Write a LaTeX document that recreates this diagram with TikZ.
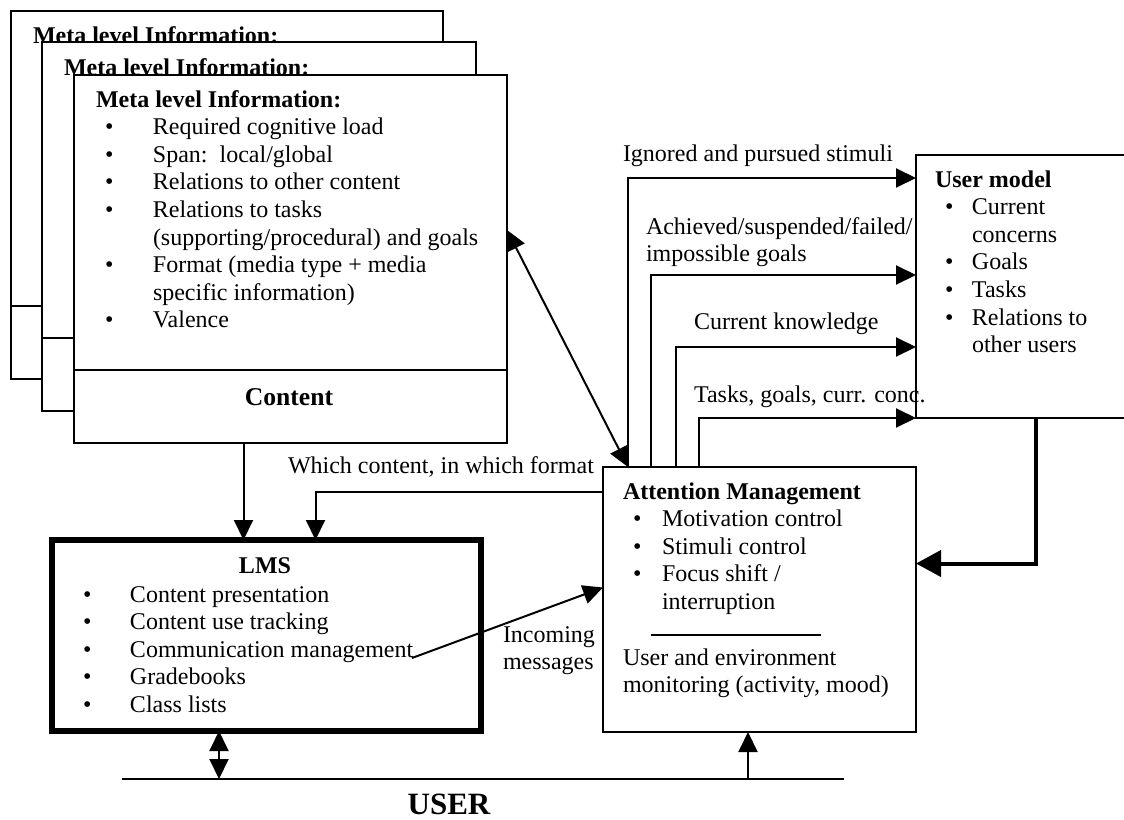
\documentclass[tikz,border=0pt]{standalone}
\usepackage{fontspec}
\setmainfont{Liberation Serif}
\usetikzlibrary{arrows.meta,calc}

\tikzset{
  box/.style={draw, fill=white, inner sep=0pt, outer sep=0pt, anchor=north west},
  txt/.style={inner sep=0pt, anchor=base west},
  arr/.style={-{Triangle[length=20pt,width=19pt]}},
  darr/.style={{Triangle[length=20pt,width=19pt]}-{Triangle[length=20pt,width=19pt]}},
  bigarr/.style={line width=4pt, -{Triangle[length=25pt,width=26pt]}},
}
\newcommand{\bl}[2]{\hspace*{#1}\makebox[#2][l]{\textbullet}}
\newcommand{\rows}[1]{\begin{tabular}[t]{@{}l@{}}#1\end{tabular}}

\begin{document}
\begin{tikzpicture}[x=1pt,y=-1pt,line width=2pt,font=\fontsize{24}{27.6}\selectfont]
  \useasboundingbox (0,0) rectangle (1124,819);
  % content stack
  \node[box, minimum width=432pt, minimum height=368pt] (meta1) at (11,11) {};
  \draw (meta1.west |- 0,306) -- (meta1.east |- 0,306);
  \node[txt] (hd1) at (32,43) {\bfseries Meta level Information:};
  \node[box, minimum width=434pt, minimum height=369pt] (meta2) at (42,42) {};
  \draw (meta2.west |- 0,338) -- (meta2.east |- 0,338);
  \node[txt] (hd2) at (63,75) {\bfseries Meta level Information:};
  \node[box, minimum width=433pt, minimum height=368pt] (meta3) at (74,75) {};
  \draw (meta3.west |- 0,370) -- (meta3.east |- 0,370);
  \node[txt] (metatxt) at (95,107) {\rows{\bfseries Meta level Information:\\
    \bl{9pt}{48pt}Required cognitive load\\
    \bl{9pt}{48pt}Span:\ \ local/global\\
    \bl{9pt}{48pt}Relations to other content\\
    \bl{9pt}{48pt}Relations to tasks\\
    \hspace*{57pt}(supporting/procedural) and goals\\
    \bl{9pt}{48pt}Format (media type + media\\
    \hspace*{57pt}specific information)\\
    \bl{9pt}{48pt}Valence}};
  \node[anchor=base, inner sep=0pt, font=\fontsize{25.6}{30}\selectfont\bfseries] (cont) at (289,405) {Content};

  % user model
  \node[box, minimum width=224pt, minimum height=263pt] (um) at (916,155) {};
  \node[txt] (umtxt) at (934,187) {\rows{\bfseries User model\\
    \bl{10pt}{27pt}Current\\
    \hspace*{37pt}concerns\\
    \bl{10pt}{27pt}Goals\\
    \bl{10pt}{27pt}Tasks\\
    \bl{10pt}{27pt}Relations to\\
    \hspace*{37pt}other users}};

  % attention management
  \node[box, minimum width=313pt, minimum height=265pt] (am) at (603,467) {};
  \node[txt] (amtxt) at (622,499) {\rows{\bfseries Attention Management\\
    \bl{10pt}{29pt}Motivation control\\
    \bl{10pt}{29pt}Stimuli control\\
    \bl{10pt}{29pt}Focus shift /\\
    \hspace*{39pt}interruption}};
  \draw (651,635) -- (821,635);
  \node[txt] (montxt) at (622,665) {\rows{User and environment\\monitoring (activity, mood)}};

  % LMS
  \node[box, line width=6pt, minimum width=429pt, minimum height=191pt] (lms) at (52,540) {};
  \node[anchor=base, inner sep=0pt] (lmshd) at (265,573) {\bfseries LMS};
  \node[txt] (lmstxt) at (82,602) {\rows{\bl{0pt}{47pt}Content presentation\\
    \bl{0pt}{47pt}Content use tracking\\
    \bl{0pt}{47pt}Communication management\\
    \bl{0pt}{47pt}Gradebooks\\
    \bl{0pt}{47pt}Class lists}};

  % user
  \coordinate (userL) at (122,779);
  \coordinate (userR) at (844,779);
  \draw (userL) -- (userR);
  \node[anchor=base, inner sep=0pt, font=\fontsize{31}{36}\selectfont\bfseries] (user) at (449,814) {USER};

  % connectors
  \draw[darr] ([yshift=29pt]meta3.east) -- ([xshift=25pt]am.north west);
  \draw[arr] ([xshift=25pt]am.north west) |- ([yshift=-23pt]um.north west);
  \draw[arr] ([xshift=48pt]am.north west) |- ([yshift=-120pt]um.north west);
  \draw[arr] ([xshift=73pt]am.north west) |- ([yshift=-192pt]um.north west);
  \draw[arr] ([xshift=96pt]am.north west) |- (um.south west);
  \node[txt] (lbign) at (622,161) {Ignored and pursued stimuli};
  \node[txt] (lbgoal) at (645,234) {\rows{Achieved/suspended/failed/\\impossible goals}};
  \node[txt] (lbknow) at (693,329) {Current knowledge};
  \node[txt] (lbtask) at (693,402) {Tasks, goals, curr. conc.};
  \draw[bigarr] ([xshift=120pt]um.south west) |- ([yshift=36pt]am.east);

  \draw[arr] ([xshift=-47pt]meta3.south) -- ([xshift=-47pt]meta3.south |- lms.north);
  \draw[arr] ([yshift=108pt]am.west) -| ([xshift=49pt]lms.north);
  \node[txt] (lbwhich) at (287,473) {Which content, in which format};

  \coordinate (inc) at (412,658);
  \draw[arr] (inc) -- ([yshift=12pt]am.west);
  \node[txt] (lbinc) at (502,642) {\rows{Incoming\\messages}};

  \draw[darr] (219,0 |- lms.south) -- (219,0 |- userL);
  \draw[arr] (748,0 |- userL) -- (748,0 |- am.south);
\end{tikzpicture}
\end{document}
